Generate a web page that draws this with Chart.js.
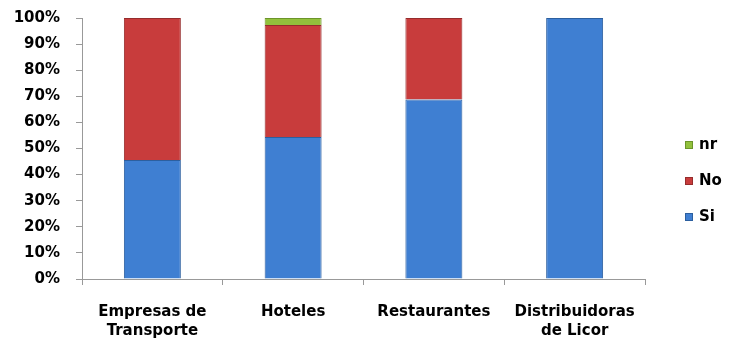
<!DOCTYPE html>
<html>
<head>
<meta charset="utf-8">
<script src="https://cdn.jsdelivr.net/npm/chart.js@4"></script>
<style>
  html, body { margin: 0; padding: 0; background: #fff; }
  #wrap { width: 730px; height: 343px; }
</style>
</head>
<body>
<div id="wrap"><canvas id="myChart" width="730" height="343"></canvas></div>
<script>
const categories = [['Empresas de', 'Transporte'], 'Hoteles', 'Restaurantes', ['Distribuidoras', 'de Licor']];
const siValues = [45.6, 54.4, 68.8, 100];
const noValues = [54.4, 42.9, 31.2, 0];
const nrValues = [0, 2.7, 0, 0];
const yTicks = [0, 10, 20, 30, 40, 50, 60, 70, 80, 90, 100];

// legend drawn on the right, items top to bottom: nr, No, Si
const sideLegend = {
    id: 'sideLegend',
    afterDraw: function(chart) {
        const c = chart.ctx;
        const sets = chart.data.datasets.slice().reverse();
        const rows = [145, 181, 217];
        c.save();
        c.font = 'bold 15px "DejaVu Sans"';
        c.textBaseline = 'middle';
        sets.forEach(function(ds, i) {
            const y = rows[i];
            c.fillStyle = ds.backgroundColor;
            c.fillRect(685, y - 4, 8, 8);
            c.strokeStyle = ds.borderColor;
            c.lineWidth = 1;
            c.strokeRect(685.5, y - 3.5, 7, 7);
            c.fillStyle = '#000';
            c.fillText(ds.label, 699, y);
        });
        c.restore();
    }
};

document.addEventListener('DOMContentLoaded', function() {
const ctx = document.getElementById('myChart').getContext('2d');

const myChart = new Chart(ctx, {
type: 'bar',
data: {
    labels: categories,
    datasets: [{
        label: 'Si',
        data: siValues,
        backgroundColor: '#3f7fd2',
        borderColor: '#2c5f9f',
        borderWidth: 1
    }, {
        label: 'No',
        data: noValues,
        backgroundColor: '#c83c3c',
        borderColor: '#962c2c',
        borderWidth: 1
    }, {
        label: 'nr',
        data: nrValues,
        backgroundColor: '#92c13c',
        borderColor: '#6c952a',
        borderWidth: 1
    }]
},
plugins: [sideLegend],
options: {
    responsive: false,
    animation: false,
    layout: { padding: { left: 12, right: 85, top: 18, bottom: 0 } },
    datasets: { bar: { categoryPercentage: 0.8, barPercentage: 0.506 } },
    scales: {
        x: {
            stacked: true,
            afterFit: function(axis) { axis.height = 64; axis.paddingLeft = 0; axis.paddingRight = 0; },
            grid: { display: true, drawOnChartArea: false, offset: true, tickLength: 6, color: '#999' },
            border: { color: '#999' },
            ticks: {
                color: '#000',
                padding: 17,
                maxRotation: 0,
                font: { family: 'DejaVu Sans', weight: 'bold', size: 15, lineHeight: 1.3 }
            }
        },
        y: {
            stacked: true,
            min: 0,
            max: 100,
            afterFit: function(axis) { axis.width = 70; axis.paddingTop = 0; axis.paddingBottom = 0; },
            afterBuildTicks: function(axis) { axis.ticks = yTicks.map(v => ({ value: v })); },
            grid: { display: true, drawOnChartArea: false, tickLength: 6, color: '#999' },
            border: { color: '#999' },
            ticks: {
                color: '#000',
                padding: 16,
                font: { family: 'DejaVu Sans', weight: 'bold', size: 15 },
                callback: function(v) { return v + '%'; }
            }
        }
    },
    plugins: {
        legend: { display: false },
        tooltip: { enabled: false }
    }
}
});
});
</script>
</body>
</html>
